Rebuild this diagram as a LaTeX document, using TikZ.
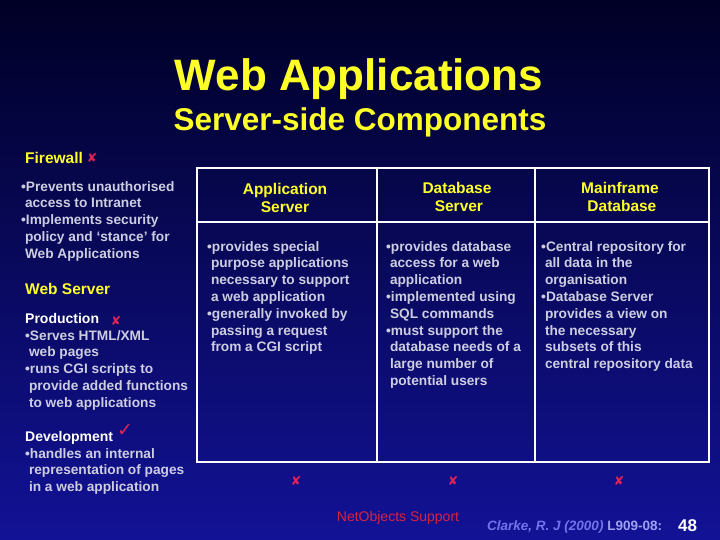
\documentclass[tikz,border=0pt]{standalone}
\usepackage{fontspec}
\setmainfont{Liberation Sans}
\newfontfamily\dejavu{DejaVu Sans}
\definecolor{bgtop}{RGB}{0,0,38}
\definecolor{bgbot}{RGB}{18,18,150}
\definecolor{ttlyellow}{RGB}{255,255,40}
\definecolor{bodycol}{RGB}{205,205,225}
\definecolor{xred}{RGB}{225,35,85}
\definecolor{netred}{RGB}{215,35,65}
\definecolor{clarkeblue}{RGB}{115,115,235}
\definecolor{lblue}{RGB}{160,160,245}
\newcommand{\ind}{\hspace*{3.8pt}}
\begin{document}
\begin{tikzpicture}[x=1pt,y=-1pt,
  title/.style={font=\fontsize{44}{50}\selectfont\bfseries, text=ttlyellow, inner sep=0, anchor=base},
  subtitle/.style={font=\fontsize{31.5}{36}\selectfont\bfseries, text=ttlyellow, inner sep=0, anchor=base},
  yhead/.style={font=\fontsize{15.5}{18}\selectfont\bfseries, text=ttlyellow, inner sep=0, anchor=base west},
  colhead/.style={font=\fontsize{15.5}{18}\selectfont\bfseries, text=ttlyellow, inner sep=0, anchor=north, align=center},
  whead/.style={font=\fontsize{14}{17}\selectfont\bfseries, text=white, inner sep=0, anchor=base west},
  body/.style={font=\fontsize{13.7}{16.8}\selectfont\bfseries, text=bodycol, inner sep=0, anchor=north west, align=left},
  xmark/.style={font=\dejavu\fontsize{12.5}{12.5}\selectfont, text=xred, inner sep=0},
  grid/.style={draw=white, line width=2.4pt}
]
\useasboundingbox (0,0) rectangle (720,540);
\shade[top color=bgtop, bottom color=bgbot] (0,0) rectangle (720,540);

% title
\node[title] (t1) at (359,91) {Web Applications};
\node[subtitle] (t2) at (360,131) {Server-side Components};

% left column
\node[yhead] (fw) at (25,163.5) {Firewall};
\node[xmark] (fwx) at (92,158) {✘};
\node[body] (fwb) at (21,181) {•Prevents unauthorised\\ \ind access to Intranet\\ •Implements security\\ \ind policy and ‘stance’ for\\ \ind Web Applications};

\node[yhead] (ws) at (25,294.5) {Web Server};
\node[whead] (prod) at (25,323) {Production};
\node[xmark] (prodx) at (116,321) {✘};
\node[body] (prodb) at (25,330) {•Serves HTML/XML\\ \ind web pages\\ •runs CGI scripts to\\ \ind provide added functions\\ \ind to web applications};

\node[whead] (dev) at (25,441) {Development};
\node[font=\dejavu\fontsize{19}{19}\selectfont, text=xred, inner sep=0] (devc) at (125,431) {✓};
\node[body] (devb) at (25,448) {•handles an internal\\ \ind representation of pages\\ \ind in a web application};

% table grid
\draw[grid] (197,168) rectangle (709,462);
\draw[grid] (197,222) -- (709,222);
\draw[grid] (377,168) -- (377,462);
\draw[grid] (535,168) -- (535,462);

% column headers
\node[colhead] (apph) at (285,183.2) {Application\\Server};
\node[colhead] (dbh) at (457,182.2) {Database\\ \ind Server};
\node[colhead] (mfh) at (620,182.2) {Mainframe\\ \ind Database};

% column bodies
\node[body] (appb) at (207,241) {•provides special\\ \ind purpose applications\\ \ind necessary to support\\ \ind a web application\\ •generally invoked by\\ \ind passing a request\\ \ind from a CGI script};
\node[body] (dbb) at (386,241) {•provides database\\ \ind access for a web\\ \ind application\\ •implemented using\\ \ind SQL commands\\ •must support the\\ \ind database needs of a\\ \ind large number of\\ \ind potential users};
\node[body] (mfb) at (541,241) {•Central repository for\\ \ind all data in the\\ \ind organisation\\ •Database Server\\ \ind provides a view on\\ \ind the necessary\\ \ind subsets of this\\ \ind central repository data};

% bottom x marks
\node[xmark] (appx) at (296,481) {✘};
\node[xmark] (dbx) at (453,481) {✘};
\node[xmark] (mfx) at (619,481) {✘};

% footer
\node[font=\fontsize{14}{16}\selectfont, text=netred, inner sep=0, anchor=base] (net) at (398,521) {NetObjects Support};
\node[font=\fontsize{13.5}{16}\selectfont\bfseries, inner sep=0, anchor=base west] (clarke) at (487,530) {\textcolor{clarkeblue}{\itshape Clarke, R. J (2000)} \textcolor{lblue}{L909-08:}};
\node[font=\fontsize{17}{20}\selectfont\bfseries, text=white, inner sep=0, anchor=base west] (pg) at (678,531) {48};
\end{tikzpicture}
\end{document}
